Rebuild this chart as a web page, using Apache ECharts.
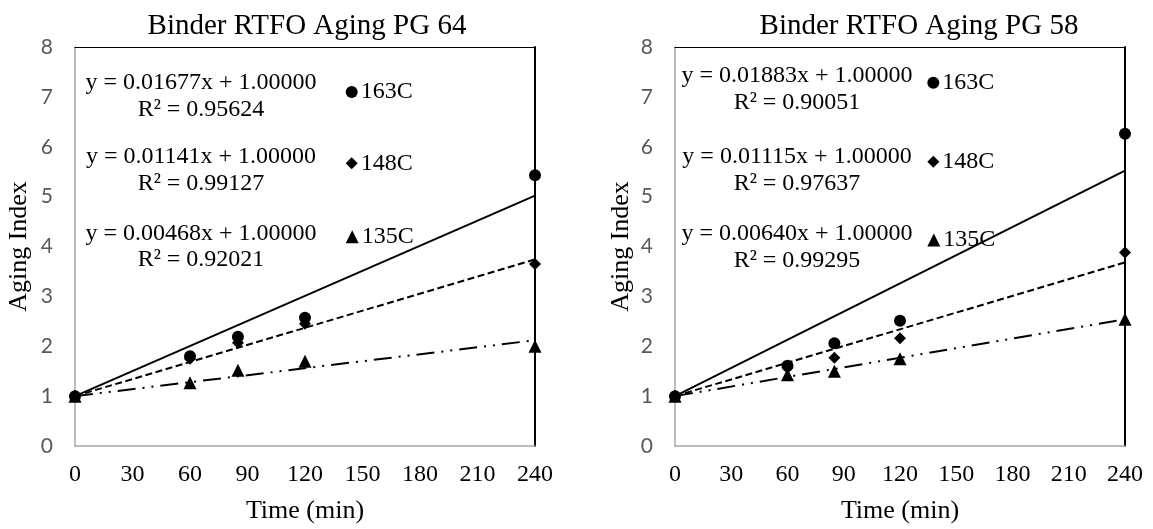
<!DOCTYPE html>
<html>
<head>
<meta charset="utf-8">
<script src="https://cdn.jsdelivr.net/npm/echarts@6/dist/echarts.min.js"></script>
<style>
html,body{margin:0;padding:0;background:#fff;}
#chart{width:1153px;height:529px;}
</style>
</head>
<body>
<div id="chart"></div>
<script>
// ---- data ----
const times = [0, 60, 85, 120, 240];
const seriesNames = ['163C', '148C', '135C'];
const pg64_163 = [1.00, 1.80, 2.19, 2.57, 5.43];
const pg64_148 = [1.00, 1.75, 2.07, 2.45, 3.65];
const pg64_135 = [1.00, 1.27, 1.52, 1.70, 2.00];
const pg58_163 = [1.00, 1.61, 2.06, 2.51, 6.26];
const pg58_148 = [1.00, 1.57, 1.77, 2.16, 3.88];
const pg58_135 = [1.00, 1.43, 1.50, 1.75, 2.54];
const fitTimes = [0, 240];
const pg64Fit163 = [1.00, 5.02];
const pg64Fit148 = [1.00, 3.74];
const pg64Fit135 = [1.00, 2.12];
const pg58Fit163 = [1.00, 5.52];
const pg58Fit148 = [1.00, 3.68];
const pg58Fit135 = [1.00, 2.54];
const pg64Eq = ['y = 0.01677x + 1.00000', 'y = 0.01141x + 1.00000', 'y = 0.00468x + 1.00000'];
const pg64R2 = ['R\u00B2 = 0.95624', 'R\u00B2 = 0.99127', 'R\u00B2 = 0.92021'];
const pg58Eq = ['y = 0.01883x + 1.00000', 'y = 0.01115x + 1.00000', 'y = 0.00640x + 1.00000'];
const pg58R2 = ['R\u00B2 = 0.90051', 'R\u00B2 = 0.97637', 'R\u00B2 = 0.99295'];
const titles = ['Binder RTFO Aging PG 64', 'Binder RTFO Aging PG 58'];
const xName = 'Time (min)';
const yName = 'Aging Index';

// ---- styling ----
const SERIF = '"Liberation Serif", "Times New Roman", serif';
const SANS = 'Lato, "Open Sans", sans-serif';
const symbols = ['circle', 'diamond', 'triangle'];
const symSizes = [12, 12, 13];
const lineTypes = ['solid', [7, 3.5], [18, 7, 2, 7, 2, 7]];

const chart = echarts.init(document.getElementById('chart'), null, {renderer: 'canvas'});

const grids = [
  {left: 75, right: 618, top: 47, bottom: 82},
  {left: 675, right: 28, top: 47, bottom: 82}
];

function zip(xs, ys) { return xs.map((x, i) => [x, ys[i]]); }

const xAxes = [], yAxes = [];
[0, 1].forEach(g => {
  xAxes.push({
    type: 'value', gridIndex: g, min: 0, max: 240, interval: 30, position: 'bottom',
    name: xName, nameLocation: 'middle', nameGap: 52,
    nameTextStyle: {fontFamily: SERIF, fontSize: 26, color: '#000'},
    axisLine: {show: true, onZero: false, lineStyle: {color: '#a6a6a6', width: 1.5}},
    axisTick: {show: false}, splitLine: {show: false},
    axisLabel: {fontFamily: SERIF, fontSize: 24, color: '#000', margin: 17}
  });
  xAxes.push({
    type: 'value', gridIndex: g, min: 0, max: 240, interval: 30, position: 'top',
    axisLine: {show: true, onZero: false, lineStyle: {color: '#000', width: 1}},
    axisTick: {show: false}, splitLine: {show: false}, axisLabel: {show: false}
  });
  yAxes.push({
    type: 'value', gridIndex: g, min: 0, max: 8, interval: 1, position: 'left',
    name: yName, nameLocation: 'middle', nameGap: g === 0 ? 43 : 41, nameRotate: 90,
    nameTextStyle: {fontFamily: SERIF, fontSize: 26, color: '#000'},
    axisLine: {show: true, onZero: false, lineStyle: {color: '#a6a6a6', width: 1.5}},
    axisTick: {show: false}, splitLine: {show: false},
    axisLabel: {fontFamily: SANS, fontSize: 21, color: '#595959', margin: 22}
  });
  yAxes.push({
    type: 'value', gridIndex: g, min: 0, max: 8, interval: 1, position: 'right',
    axisLine: {show: true, onZero: false, lineStyle: {color: '#000', width: 2}},
    axisTick: {show: false}, splitLine: {show: false}, axisLabel: {show: false}
  });
});

const series = [];
const pointSets = [[pg64_163, pg64_148, pg64_135], [pg58_163, pg58_148, pg58_135]];
const fitSets = [[pg64Fit163, pg64Fit148, pg64Fit135], [pg58Fit163, pg58Fit148, pg58Fit135]];
[0, 1].forEach(g => {
  seriesNames.forEach((name, i) => {
    series.push({
      name: 'Linear (' + name + ')', type: 'line', xAxisIndex: g * 2, yAxisIndex: g * 2,
      data: zip(fitTimes, fitSets[g][i]), symbol: 'none', silent: true, z: 2,
      lineStyle: {color: '#000', width: 2, type: lineTypes[i]}
    });
    series.push({
      name: name, type: 'scatter', xAxisIndex: g * 2, yAxisIndex: g * 2,
      data: zip(times, pointSets[g][i]), symbol: symbols[i], symbolSize: symSizes[i], z: 5,
      itemStyle: {color: '#000', opacity: 1}
    });
  });
});

// legends (one entry each, placed beside its equation)
const legendPos = [
  {left: 345.7, tops: [92, 163.3, 236.7]},
  {left: 927.3, tops: [82.8, 161.7, 240]}
];
const legends = [];
legendPos.forEach(p => {
  seriesNames.forEach((name, i) => {
    legends.push({
      data: [name], left: p.left, top: p.tops[i] - 12, orient: 'vertical',
      itemWidth: symSizes[i], itemHeight: symSizes[i], padding: 0, selectedMode: false,
      itemStyle: {opacity: 1},
      textStyle: {fontFamily: SERIF, fontSize: 24, color: '#000', padding: [0, 0, 0, -2]}
    });
  });
});

// equation annotations
const eqPos = [
  {x: 201, eqY: [82.8, 156.7, 233.3], r2Y: [110, 183.3, 260]},
  {x: 797, eqY: [76, 157, 234], r2Y: [103, 183.5, 261]}
];
const eqTexts = [[pg64Eq, pg64R2], [pg58Eq, pg58R2]];
const graphics = [];
eqPos.forEach((p, g) => {
  for (let i = 0; i < 3; i++) {
    [[eqTexts[g][0][i], p.eqY[i]], [eqTexts[g][1][i], p.r2Y[i]]].forEach(([t, y]) => {
      graphics.push({
        type: 'text', x: p.x, y: y, silent: true, z: 10,
        style: {text: t, font: '24px ' + SERIF, fill: '#000',
                align: 'center', verticalAlign: 'middle',
                textAlign: 'center', textVerticalAlign: 'middle'}
      });
    });
  }
});

chart.setOption({
  animation: false,
  backgroundColor: '#fff',
  title: [
    {text: titles[0], left: 302, top: 7, textAlign: 'center',
     textStyle: {fontFamily: SERIF, fontSize: 29, fontWeight: 'normal', color: '#000'}},
    {text: titles[1], left: 914, top: 7, textAlign: 'center',
     textStyle: {fontFamily: SERIF, fontSize: 29, fontWeight: 'normal', color: '#000'}}
  ],
  grid: grids,
  xAxis: xAxes,
  yAxis: yAxes,
  legend: legends,
  graphic: graphics,
  series: series
});
</script>
</body>
</html>
